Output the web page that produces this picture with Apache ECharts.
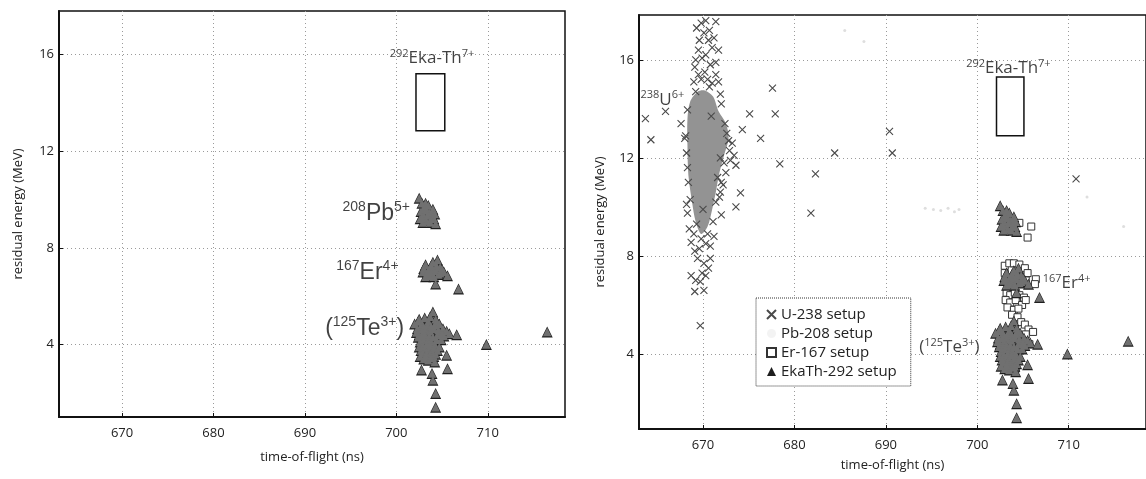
<!DOCTYPE html>
<html><head><meta charset="utf-8">
<script src="https://cdn.jsdelivr.net/npm/echarts@6/dist/echarts.min.js"></script>
<style>html,body{margin:0;padding:0;background:#fff}#c{width:1146px;height:479px}</style>
</head><body><div id="c"></div><script>
// ---------- data ----------
const xTicks = [670, 680, 690, 700, 710];
const yTicks = [4, 8, 12, 16];
const xName = 'time-of-flight (ns)';
const yName = 'residual energy (MeV)';
const legendNames = ['U-238 setup', 'Pb-208 setup', 'Er-167 setup', 'EkaTh-292 setup'];

// EkaTh-292 setup (triangles) [tof ns, energy MeV]
const ekaThData = [
  // 208Pb5+ group
  [702.5,10.05],[702.8,9.85],[703.1,9.7],[702.7,9.5],[703.3,9.55],[703.6,9.45],[703.0,9.3],[703.9,9.35],
  [703.3,9.1],[704.1,9.2],[703.7,9.05],[704.3,9.0],[702.9,9.05],[703.5,9.75],[704.0,9.6],[702.6,9.2],
  [703.0,9.6],[703.4,9.35],[703.8,9.2],[703.2,9.85],[704.2,9.4],[702.8,9.25],
  // 167Er4+ group
  [702.9,7.0],[703.2,7.3],[703.6,7.1],[704.0,7.4],[704.5,7.5],[704.8,7.2],[705.2,7.0],[705.6,6.85],
  [703.2,6.8],[703.8,6.9],[704.3,7.05],[703.0,7.15],[704.6,6.9],[704.3,6.5],[706.8,6.3],
  [703.4,7.0],[704.0,7.1],[704.4,7.25],[703.8,7.25],[704.8,6.95],[705.0,7.1],[703.5,6.85],[704.1,6.8],
  // (125Te3+) group
  [702.0,4.85],[702.3,4.65],[702.5,5.05],[702.8,4.85],[703.1,5.1],[703.5,4.95],[704.0,5.35],[704.3,5.05],
  [704.7,4.85],[705.1,4.65],[705.5,4.55],[705.8,4.45],[706.6,4.4],
  [702.5,4.4],[702.9,4.5],[703.3,4.6],[703.7,4.55],[704.1,4.65],[704.5,4.4],[704.9,4.2],
  [702.6,4.1],[703.0,4.2],[703.4,4.2],[703.8,4.1],[704.2,4.0],[704.7,3.9],
  [702.7,3.75],[703.1,3.85],[703.5,3.8],[703.9,3.7],[704.3,3.6],
  [702.4,4.3],[702.8,4.3],[703.2,4.35],[703.6,4.35],[704.0,4.3],[704.4,4.2],[704.8,4.45],[705.2,4.35],
  [702.5,3.9],[702.9,3.95],[703.3,4.0],[703.7,3.95],[704.1,3.85],[704.5,3.75],
  [702.9,3.65],[703.3,3.65],[703.7,3.6],[704.1,3.5],[703.0,3.4],[703.5,3.35],
  [702.4,4.95],[702.7,4.65],[703.0,4.7],[703.4,4.8],[703.8,4.75],[704.2,4.8],[704.6,4.6],[705.0,4.45],
  [703.7,5.15],[704.4,4.95],[702.2,4.5],
  [702.6,3.5],[703.2,3.5],[703.8,3.45],[704.2,3.28],[705.5,3.56],[705.6,3.0],[702.75,2.94],
  [703.9,2.8],[704.0,2.52],[704.3,1.97],[704.3,1.4],[709.85,4.0],[716.5,4.52]
];

// U-238 setup (crosses)
const u238Data = [
  [663.7,13.6],[664.3,12.74],[665.9,13.9],[667.6,13.4],[668.0,12.8],[675.1,13.8],[676.3,12.8],
  [677.6,14.85],[677.9,13.8],[678.4,11.76],[682.3,11.35],[681.8,9.75],[684.4,12.2],[690.4,13.08],
  [690.7,12.2],[710.8,11.14],[674.1,10.57],[673.6,10.0],[672.0,9.68],[669.7,5.16],[674.3,13.15],
  [673.4,12.1],[673.6,11.7],[673.2,12.6],[670.3,17.6],[671.4,17.56],[671.7,16.4],[671.4,15.4],
  [670.7,14.9],[672.0,14.2],[672.4,13.4],[672.6,13.0],[672.0,11.0],[671.9,10.6],[671.4,10.2],
  [671.1,9.4],[668.3,9.75],[668.5,9.1],[669.1,8.2],[670.5,8.9],[670.1,7.7],[668.7,7.2],[670.3,7.2],
  [669.1,6.55],[670.1,6.6],[669.7,6.95],[670.3,8.5],[668.7,8.55],[669.5,16.4],[670.1,17.1],
  [669.1,15.7],[669.9,16.07],[671.0,15.05],[668.3,13.96],[670.6,16.8],[669.8,15.2],[670.9,13.7],
  [672.9,12.3],[671.9,12.0],[672.5,11.4],[671.6,11.2],[668.4,11.0],[668.6,10.3],[669.3,9.3],
  [670.0,9.9],[671.2,8.8],[669.6,8.3],[670.8,7.9],
  [669.3,17.3],[669.8,17.5],[670.7,17.2],[671.2,16.9],[669.6,16.8],[670.3,16.2],[671.0,16.5],
  [669.2,16.0],[670.8,15.8],[671.4,15.9],[669.5,15.4],[670.2,15.5],[671.7,15.1],[669.0,15.1],
  [670.5,15.2],[669.2,14.7],[671.9,14.6],
  [669.0,8.9],[669.8,8.7],[670.8,8.4],[669.4,7.9],[670.6,7.5],[669.9,7.3],[669.2,7.0],
  [668.2,12.2],[668.3,11.6],[668.1,12.9],[672.8,12.7],[673.0,11.9],[672.3,11.8],[672.2,10.9],
  [671.8,10.4],[668.2,10.1]
];
// dense core of U-238 cloud (outline)
const uBlob = [
  [670.2,14.75],[671.1,14.5],[671.7,13.9],[672.5,13.4],[672.8,12.8],[672.3,12.1],[671.8,11.4],
  [671.4,10.6],[671.0,9.9],[670.5,9.2],[669.8,8.9],[669.2,9.4],[668.8,10.2],[668.4,11.3],
  [668.3,12.5],[668.3,13.6],[668.6,14.3],[669.4,14.7]
];
// Pb-208 setup (faint dots)
const pb208Data = [
  [694.3,9.95],[695.2,9.9],[696.0,9.85],[696.8,9.95],[697.5,9.8],[698.0,9.9],[685.5,17.2],
  [687.6,16.75],[712.0,10.4],[716.0,9.2]
];
// Er-167 setup (open squares)
const er167Data = [
  [704.6,9.35],[705.9,9.2],[705.5,8.75],
  [703.0,7.6],[703.5,7.7],[704.0,7.7],[704.6,7.65],[705.2,7.5],[705.5,7.3],[703.0,7.3],[705.3,7.0],
  [706.4,7.05],[706.3,6.85],
  [703.2,6.5],[703.6,6.4],[704.1,6.5],[704.6,6.4],[705.1,6.3],[703.1,6.2],[703.6,6.1],[704.2,6.2],
  [704.9,6.0],[705.3,6.2],[703.3,5.9],[704.0,5.8],[704.5,5.85],[703.8,5.6],[704.4,5.5],
  [704.8,5.3],[705.2,5.2],[705.6,5.0],[705.3,4.8],[706.1,4.9],[705.7,4.4],[704.2,3.4],[703.6,3.6]
];
// expected window for 292Eka-Th7+
const ekaBoxLeft = [[702.15,12.85],[705.3,15.2]];
const ekaBoxRight = [[702.1,12.9],[705.1,15.3]];

// annotations [x, y, rich text]
const leftNotes = [
  [703.9, 15.83, '{s|292}{m|Eka-Th}{s|7+}'],
  [701.55, 9.42, '{S|208}{M|Pb}{S|5+}'],
  [700.3, 6.98, '{S|167}{M|Er}{S|4+}'],
  [700.9, 4.66, '{M|(}{S|125}{M|Te}{S|3+}{M|)}']
];
const rightNotes = [
  [703.4, 15.67, '{s|292}{m|Eka-Th}{s|7+}'],
  [668.0, 14.37, '{s|238}{m|U}{s|6+}'],
  [707.1, 6.9, '{s|167}{m|Er}{s|4+}'],
  [700.3, 4.29, '{m|(}{s|125}{m|Te}{s|3+}{m|)}']
];

// ---------- options ----------
const HUM = '"Open Sans", "Noto Sans", sans-serif';
const ARI = '"Liberation Sans", Arial, sans-serif';
const rich = {
  m: {fontFamily: HUM, fontSize: 17, lineHeight: 20, color: '#111'},
  s: {fontFamily: HUM, fontSize: 11, lineHeight: 11, verticalAlign: 'top', color: '#111'},
  M: {fontFamily: ARI, fontSize: 23, lineHeight: 26, color: '#111'},
  S: {fontFamily: ARI, fontSize: 14, lineHeight: 13, verticalAlign: 'top', color: '#111'}
};
const leftPos = ['inside', 'left', 'left', 'left'];
const rightPos = ['inside', 'left', 'right', 'left'];

function xAxisCfg(gi, min, max, nameGap) {
  return {
    type: 'value', gridIndex: gi, min: min, max: max,
    name: xName, nameLocation: 'middle', nameGap: nameGap,
    nameTextStyle: {fontFamily: HUM, fontSize: 13, color: '#222'},
    axisLine: {show: true, lineStyle: {color: '#111', width: 2}},
    axisTick: {show: true, inside: true, length: 4, customValues: xTicks, lineStyle: {color: '#111'}},
    axisLabel: {customValues: xTicks, fontFamily: HUM, fontSize: 13, color: '#222', margin: 10},
    splitLine: {show: true, lineStyle: {color: '#9a9a9a', type: [1, 3], width: 1}}
  };
}
function yAxisCfg(gi, min, max, nameGap) {
  return {
    type: 'value', gridIndex: gi, min: min, max: max,
    name: yName, nameLocation: 'middle', nameGap: nameGap,
    nameTextStyle: {fontFamily: HUM, fontSize: 13, color: '#222'},
    axisLine: {show: true, lineStyle: {color: '#111', width: 2}},
    axisTick: {show: true, inside: true, length: 4, customValues: yTicks, lineStyle: {color: '#111'}},
    axisLabel: {customValues: yTicks, fontFamily: HUM, fontSize: 13, color: '#222', margin: 5},
    splitLine: {show: true, lineStyle: {color: '#9a9a9a', type: [1, 3], width: 1}}
  };
}
function notesSeries(gi, notes, pos, box) {
  return {
    type: 'scatter', xAxisIndex: gi, yAxisIndex: gi, silent: true, z: 10,
    symbol: 'circle', symbolSize: 1, itemStyle: {color: 'rgba(0,0,0,0)'},
    data: notes.map((n, i) => ({
      value: [n[0], n[1]],
      label: {show: true, position: pos[i], distance: 0, formatter: n[2], rich: rich}
    })),
    markArea: {
      silent: true,
      itemStyle: {color: 'rgba(0,0,0,0)', borderColor: '#111', borderWidth: 1.5},
      data: [[{coord: box[0]}, {coord: box[1]}]]
    }
  };
}
function ekaSeries(gi) {
  return [
    {name: 'EkaTh-292 setup', type: 'scatter', xAxisIndex: gi, yAxisIndex: gi, z: 4,
     symbol: 'triangle', symbolSize: 11, itemStyle: {color: '#1e1e1e', opacity: 1}, data: ekaThData},
    {name: '_fill', type: 'scatter', xAxisIndex: gi, yAxisIndex: gi, z: 5,
     symbol: 'triangle', symbolSize: 8.5, itemStyle: {color: '#707070', opacity: 1}, data: ekaThData}
  ];
}
const CROSS = 'path://M0 0L10 10M10 0L0 10';

const option = {
  animation: false,
  backgroundColor: '#fff',
  grid: [
    {left: 59, top: 11, width: 506, height: 406, show: true, borderColor: '#111', borderWidth: 1.5, containLabel: false},
    {left: 639, top: 15, width: 518, height: 414, show: true, borderColor: '#111', borderWidth: 1.5, containLabel: false}
  ],
  xAxis: [xAxisCfg(0, 663.1, 718.45, 34), xAxisCfg(1, 663.0, 718.45, 30)],
  yAxis: [yAxisCfg(0, 1.0, 17.8, 34), yAxisCfg(1, 0.94, 17.83, 32)],
  legend: {
    data: [
      {name: legendNames[0]},
      {name: legendNames[1], itemStyle: {color: '#f0f0f0'}},
      {name: legendNames[2]},
      {name: legendNames[3]}
    ],
    orient: 'vertical', left: 756, top: 298,
    padding: [8, 14, 6, 10], itemGap: 2, itemWidth: 9, itemHeight: 9,
    backgroundColor: '#fff', borderColor: '#333', borderWidth: 1, borderType: 'dotted',
    textStyle: {fontFamily: HUM, fontSize: 15, lineHeight: 17, color: '#222'},
    selectedMode: false
  },
  series: [
    ...ekaSeries(0),
    notesSeries(0, leftNotes, leftPos, ekaBoxLeft),
    {name: '_blob', type: 'custom', xAxisIndex: 1, yAxisIndex: 1, z: 2, silent: true,
     data: uBlob,
     renderItem: function (params, api) {
       if (params.dataIndex !== 0) return null;
       return {type: 'polygon', shape: {points: uBlob.map(p => api.coord(p)), smooth: 0.3},
               style: {fill: '#939393'}};
     }},
    {name: 'U-238 setup', type: 'scatter', xAxisIndex: 1, yAxisIndex: 1, z: 3,
     symbol: CROSS, symbolSize: 7,
     itemStyle: {color: 'rgba(0,0,0,0)', borderColor: '#4a4a4a', borderWidth: 1.1, opacity: 1},
     data: u238Data},
    {name: 'Pb-208 setup', type: 'scatter', xAxisIndex: 1, yAxisIndex: 1, z: 3,
     symbol: 'circle', symbolSize: 3, itemStyle: {color: '#d6d6d6'}, data: pb208Data},
    {name: 'Er-167 setup', type: 'scatter', xAxisIndex: 1, yAxisIndex: 1, z: 3,
     symbol: 'rect', symbolSize: 7,
     itemStyle: {color: '#fff', borderColor: '#333', borderWidth: 1, opacity: 1},
     data: er167Data},
    ...ekaSeries(1),
    notesSeries(1, rightNotes, rightPos, ekaBoxRight)
  ]
};
const chart = echarts.init(document.getElementById('c'), null, {renderer: 'canvas'});
chart.setOption(option);
</script></body></html>
